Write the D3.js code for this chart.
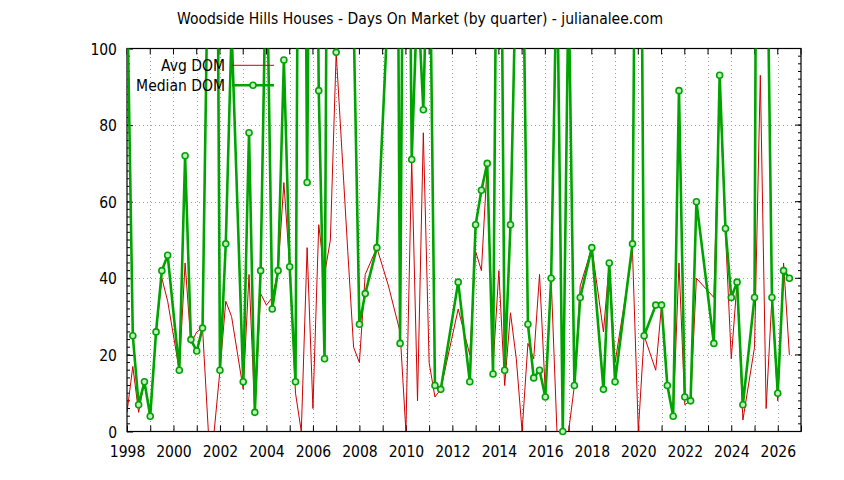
<!DOCTYPE html>
<html><head><meta charset="utf-8">
<script src="https://cdn.jsdelivr.net/npm/d3@7"></script>
<style>
body{margin:0;background:#fff;}
svg text{font-family:'DejaVu Sans Condensed','DejaVu Sans',sans-serif;font-stretch:condensed;fill:#000;}
</style></head><body>
<svg id="chart" width="844" height="480"></svg>
<script>
// ---- data (decimal year of each quarter) ----
const quarters = [1998.00,1998.25,1998.50,1998.75,1999.00,1999.25,1999.50,1999.75,
  2000.25,2000.50,2000.75,2001.00,2001.25,2001.50,2001.75,2002.00,2002.25,2002.50,
  2003.00,2003.25,2003.50,2003.75,2004.00,2004.25,2004.50,2004.75,2005.00,2005.25,2005.50,2005.75,
  2006.00,2006.25,2006.50,2006.75,2007.00,2007.25,2007.50,2007.75,2008.00,2008.25,
  2008.75,2009.25,2009.50,2009.75,2010.00,2010.25,2010.50,2010.75,2011.00,2011.25,2011.50,
  2012.25,2012.75,2013.00,2013.25,2013.50,2013.75,2014.00,2014.25,2014.50,2014.75,
  2015.00,2015.25,2015.50,2015.75,2016.00,2016.25,2016.50,2016.75,2017.00,2017.25,2017.50,
  2018.00,2018.50,2018.75,2019.00,2019.75,2020.00,2020.25,2020.75,2021.00,2021.25,2021.50,
  2021.75,2022.00,2022.25,2022.50,2023.25,2023.50,2023.75,2024.00,2024.25,2024.50,
  2025.00,2025.25,2025.50,2025.75,2026.00,2026.25,2026.50];
const avgDom = [5,17,5,13,5,26,40,34,
  16,44,23,26,27,0,0,16,34,30,
  11,41,5,36,33,35,42,65,43,10,0,48,
  6,54,41,50,99,73,47,22,18,41,
  48,38,32,26,0,71,8,78,18,9,11,
  32,20,47,42,70,17,42,12,31,19,
  0,23,19,41,10,40,0,0,0,12,38,
  48,26,44,18,47,0,25,16,33,12,4,
  44,7,8,40,35,90,52,19,39,3,
  22,93,6,35,8,44,20];
const medianDom = [118,25,7,13,4,26,42,46,
  16,72,24,21,27,132,288,16,49,105,
  13,78,5,42,130,32,42,97,43,13,300,65,
  268,89,19,300,99,250,180,108,28,36,
  48,113,300,23,250,71,115,84,145,12,11,
  39,13,54,63,70,15,220,16,54,124,
  144,28,14,16,9,40,125,0,118,12,35,
  48,11,44,13,49,250,25,33,33,12,4,
  89,9,8,60,23,93,53,35,39,7,
  35,400,150,35,10,42,40];
const seriesNames = ["Avg DOM","Median DOM"];
const xTickYears = d3.range(1998, 2028);
const yTicks = [0,20,40,60,80,100];
const yMinorTicks = d3.range(0, 101, 2);
const title = "Woodside Hills Houses - Days On Market (by quarter) - julianalee.com";

// ---- layout ----
const L = 127, R = 801, T = 48.5, B = 431.5;
const FS = 15.5;
const x = d3.scaleLinear().domain([1998, 2027]).range([L, R]);
const y = d3.scaleLinear().domain([0, 100]).range([B, T]);
const svg = d3.select("#chart");
const rows = quarters.map((q, i) => ({q, avg: avgDom[i], med: medianDom[i]}));

svg.append("defs").append("clipPath").attr("id", "clip")
  .append("rect").attr("x", L).attr("y", T).attr("width", R - L).attr("height", B - T);

// grid
const grid = svg.append("g").attr("stroke", "#a0a0a0").attr("stroke-width", 1)
  .attr("stroke-dasharray", "1,3").attr("shape-rendering", "crispEdges");
grid.selectAll(".gx").data(xTickYears.filter(d => d > 1998 && d < 2027)).join("line")
  .attr("x1", d => Math.round(x(d)) + 0.5).attr("x2", d => Math.round(x(d)) + 0.5)
  .attr("y1", T).attr("y2", B);
grid.selectAll(".gy").data(yTicks.filter(d => d > 0 && d < 100)).join("line")
  .attr("y1", d => Math.round(y(d)) + 0.5).attr("y2", d => Math.round(y(d)) + 0.5)
  .attr("x1", L).attr("x2", R);

// axes (labels + inward ticks)
const xAxis = svg.append("g").attr("transform", `translate(0,${B})`)
  .call(d3.axisBottom(x).tickValues(xTickYears).tickSizeInner(-6).tickSizeOuter(0)
    .tickPadding(14).tickFormat(d => d % 2 === 0 ? d : ""));
const yAxis = svg.append("g").attr("transform", `translate(${L},0)`)
  .call(d3.axisLeft(y).tickValues(yTicks).tickSizeInner(-6).tickSizeOuter(0)
    .tickPadding(10).tickFormat(d3.format("d")));
[xAxis, yAxis].forEach(a => {
  a.select(".domain").remove();
  a.selectAll("text").attr("font-size", FS);
  a.attr("font-family", null).attr("font-size", null);
});
yAxis.selectAll("text").attr("dy", "0.36em");

const ticks = svg.append("g").attr("stroke", "#000").attr("stroke-width", 1);
ticks.selectAll(".tt").data(xTickYears).join("line")
  .attr("x1", d => x(d)).attr("x2", d => x(d)).attr("y1", T).attr("y2", T + 6);
ticks.selectAll(".rm").data(yTicks).join("line")
  .attr("x1", R).attr("x2", R - 6).attr("y1", d => y(d)).attr("y2", d => y(d));
ticks.selectAll(".ml").data(yMinorTicks).join("line")
  .attr("x1", L).attr("x2", L + 3).attr("y1", d => y(d)).attr("y2", d => y(d));
ticks.selectAll(".mr").data(yMinorTicks).join("line")
  .attr("x1", R).attr("x2", R - 3).attr("y1", d => y(d)).attr("y2", d => y(d));

// series
const plot = svg.append("g").attr("clip-path", "url(#clip)");
plot.append("path").datum(rows)
  .attr("fill", "none").attr("stroke", "#d00000").attr("stroke-width", 1)
  .attr("d", d3.line().x(d => x(d.q)).y(d => y(d.avg)));

// frame
svg.append("rect").attr("x", L).attr("y", T).attr("width", R - L).attr("height", B - T)
  .attr("fill", "none").attr("stroke", "#000").attr("stroke-width", 1.2);

const plot2 = svg.append("g").attr("clip-path", "url(#clip)");
plot2.append("path").datum(rows)
  .attr("fill", "none").attr("stroke", "#00a400").attr("stroke-width", 2.6)
  .attr("stroke-linejoin", "round")
  .attr("d", d3.line().x(d => x(d.q)).y(d => y(d.med)));
const mk = svg.append("g");
mk.selectAll("circle").data(rows.filter(d => d.med <= 100)).join("circle")
  .attr("cx", d => x(d.q)).attr("cy", d => y(d.med)).attr("r", 3)
  .attr("fill", "#c4eac4").attr("stroke", "#00a400").attr("stroke-width", 1.6);

// title
svg.append("text").attr("x", 420).attr("y", 24).attr("text-anchor", "middle")
  .attr("font-size", FS).text(title);

// legend
const leg = svg.append("g");
const legY = [65.3, 85.3];
leg.append("text").attr("x", 225).attr("y", legY[0]).attr("dy", "0.36em")
  .attr("text-anchor", "end").attr("font-size", FS).text(seriesNames[0]);
leg.append("line").attr("x1", 232).attr("x2", 274).attr("y1", legY[0]).attr("y2", legY[0])
  .attr("stroke", "#d00000").attr("stroke-width", 1);
leg.append("text").attr("x", 225).attr("y", legY[1]).attr("dy", "0.36em")
  .attr("text-anchor", "end").attr("font-size", FS).text(seriesNames[1]);
leg.append("line").attr("x1", 232).attr("x2", 274).attr("y1", legY[1]).attr("y2", legY[1])
  .attr("stroke", "#00a400").attr("stroke-width", 2.6);
leg.append("circle").attr("cx", 253).attr("cy", legY[1]).attr("r", 3)
  .attr("fill", "#c4eac4").attr("stroke", "#00a400").attr("stroke-width", 1.6);
</script>
</body></html>
